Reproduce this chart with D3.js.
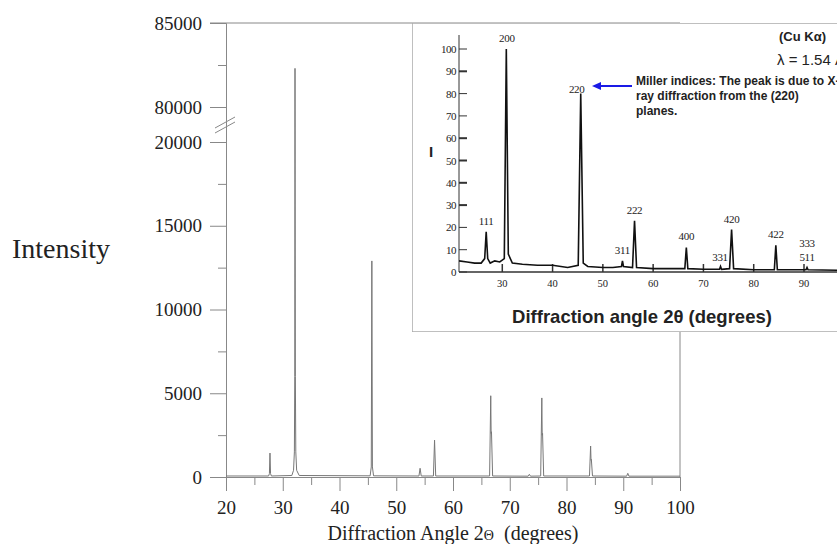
<!DOCTYPE html>
<html>
<head>
<script src="https://d3js.org/d3.v7.min.js"></script>
<style>
  body { margin: 0; background: #fff; }
</style>
</head>
<body>
<script>
// main pattern: profile points [2theta, intensity]
const mainProfile = [
  [20, 60], [27.5, 60], [27.65, 200], [27.75, 1430], [27.85, 200], [28.0, 60],
  [31.6, 90], [31.9, 400], [32.05, 1500], [32.12, 6000], [32.16, 82300], [32.22, 6000], [32.3, 1500], [32.45, 400], [32.9, 90],
  [45.4, 70], [45.6, 600], [45.7, 12900], [45.8, 600], [46.0, 70],
  [54.0, 60], [54.2, 520], [54.4, 60],
  [56.55, 60], [56.75, 2200], [56.95, 60],
  [66.45, 60], [66.65, 4850], [66.72, 2600], [66.78, 2700], [66.98, 60],
  [73.25, 50], [73.45, 160], [73.65, 50],
  [75.45, 60], [75.65, 4720], [75.72, 2500], [75.78, 2600], [75.98, 60],
  [84.05, 60], [84.25, 1850], [84.32, 1000], [84.38, 1050], [84.58, 60],
  [90.6, 50], [90.8, 220], [91.0, 50],
  [100, 50]
];
const yMajor = [0, 5000, 10000, 15000, 20000, 80000, 85000];
const yMinor = [2500, 7500, 12500, 17500, 82500];
const xMajor = [20, 30, 40, 50, 60, 70, 80, 90, 100];
const xMinor = [25, 35, 45, 55, 65, 75, 85, 95];

// inset (scanned textbook pattern)
const insetProfile = [
  [21.4, 5], [23, 4.5], [24.5, 4], [25.8, 4], [26.5, 6], [26.8, 18], [27.1, 6], [27.6, 4],
  [28.5, 5], [29.5, 4.5], [30.4, 6], [30.8, 100], [31.2, 8], [32, 4], [34, 3.5], [37, 3],
  [40, 3], [43, 2], [45.1, 3], [45.6, 80], [46.1, 4], [47, 2.5], [50, 2], [52, 2],
  [53.7, 2.5], [53.9, 5], [54.1, 2.5], [55.9, 2], [56.3, 23], [56.7, 2], [60, 1.5],
  [63, 1.5], [66.3, 1.5], [66.6, 11], [66.9, 1.5], [70, 1.2], [73.2, 1.2], [73.4, 2.5],
  [73.6, 1.2], [75.2, 1.5], [75.6, 19], [76, 1.5], [80, 1], [84.1, 1], [84.4, 12],
  [84.7, 1], [87, 1], [90.4, 1], [90.6, 2], [90.8, 1], [97, 0.8]
];
const insetYTicks = [0, 10, 20, 30, 40, 50, 60, 70, 80, 90, 100];
const insetXTicks = [30, 40, 50, 60, 70, 80, 90];
const insetLabels = [
  { t: "111", x: 26.8, v: 18 }, { t: "200", x: 30.9, v: 100 }, { t: "220", x: 45.6, v: 80 },
  { t: "311", x: 53.9, v: 5 }, { t: "222", x: 56.3, v: 23 }, { t: "400", x: 66.6, v: 11 },
  { t: "331", x: 73.3, v: 2 }, { t: "420", x: 75.6, v: 19 }, { t: "422", x: 84.4, v: 12 },
  { t: "511", x: 90.6, v: 2 }, { t: "333", x: 90.6, v: 8 }
];
const noteLines = ["Miller indices: The peak is due to X-", "ray diffraction from the (220)", "planes."];

const svg = d3.select("body").append("svg")
  .attr("width", 837).attr("height", 544)
  .style("font-family", "Liberation Serif");

const x = d3.scaleLinear().domain([20, 100]).range([226, 680]);
const y = d3.scaleLinear().domain([0, 20000, 80000, 85000]).range([477, 142, 107, 23]);

// frame
svg.append("line").attr("x1", 210).attr("x2", 680).attr("y1", 23).attr("y2", 23).attr("stroke", "#888");
svg.append("line").attr("x1", 680).attr("x2", 680).attr("y1", 23).attr("y2", 477).attr("stroke", "#888");

// y axis
svg.append("g").attr("transform", "translate(226,0)")
  .call(d3.axisLeft(y).tickValues(yMajor).tickSize(16).tickPadding(8).tickFormat(d3.format("d")));
svg.append("g").attr("transform", "translate(226,0)")
  .call(d3.axisLeft(y).tickValues(yMinor).tickSize(8).tickFormat(""))
  .select(".domain").remove();

// x axis
svg.append("g").attr("transform", "translate(0,477)")
  .call(d3.axisBottom(x).tickValues(xMajor).tickSize(14).tickPadding(10));
svg.append("g").attr("transform", "translate(0,477)")
  .call(d3.axisBottom(x).tickValues(xMinor).tickSize(8).tickFormat(""))
  .select(".domain").remove();

svg.selectAll(".tick line, .domain").attr("stroke", "#888");
svg.selectAll(".tick text").attr("font-size", 19).attr("fill", "#222").attr("font-family", "Liberation Serif");

// axis break marks
[0, 5].forEach(o => {
  svg.append("line").attr("x1", 215).attr("y1", 133 - o).attr("x2", 235).attr("y2", 122 - o)
    .attr("stroke", "#888").attr("stroke-width", 1);
});

// pattern line
svg.append("path").datum(mainProfile)
  .attr("fill", "none").attr("stroke", "#777").attr("stroke-width", 1)
  .attr("d", d3.line().x(d => x(d[0])).y(d => y(d[1])));

// titles
svg.append("text").attr("x", 12).attr("y", 258).attr("font-size", 28).attr("fill", "#222").text("Intensity");
const xt = svg.append("text").attr("x", 453).attr("y", 540).attr("text-anchor", "middle")
  .attr("font-size", 20).attr("fill", "#222");
xt.append("tspan").text("Diffraction Angle 2");
xt.append("tspan").attr("font-size", 14).text("\u0398");
xt.append("tspan").text("\u00a0\u00a0(degrees)");

// ---- inset ----
const ins = svg.append("g");
svg.append("clipPath").attr("id", "insclip").append("rect")
  .attr("x", 412).attr("y", 23).attr("width", 430).attr("height", 309);
ins.attr("clip-path", "url(#insclip)");
ins.append("rect").attr("x", 412).attr("y", 23).attr("width", 440).attr("height", 309)
  .attr("fill", "#fff").attr("stroke", "#aaa").attr("stroke-width", 1.5);

const ix = d3.scaleLinear().domain([20, 90]).range([452, 804]);
const iy = d3.scaleLinear().domain([0, 100]).range([272, 49]);

ins.append("line").attr("x1", 459).attr("x2", 459).attr("y1", 272).attr("y2", 35).attr("stroke", "#333");
ins.append("line").attr("x1", 459).attr("x2", 840).attr("y1", 272).attr("y2", 272).attr("stroke", "#333").attr("stroke-width", 1.5);

ins.selectAll(".iyt").data(insetYTicks).join("line")
  .attr("x1", 459).attr("x2", 467).attr("y1", d => iy(d)).attr("y2", d => iy(d))
  .attr("stroke", "#333").attr("stroke-width", (d, i) => [30, 40, 50, 60, 90].includes(d) ? 2 : 1);
ins.selectAll(".iyl").data(insetYTicks).join("text")
  .attr("x", 456).attr("y", d => iy(d) + 4).attr("text-anchor", "end")
  .attr("font-size", 11).attr("letter-spacing", -0.5).attr("fill", "#222").text(d => d);
ins.selectAll(".ixt").data(insetXTicks).join("line")
  .attr("x1", d => ix(d)).attr("x2", d => ix(d)).attr("y1", 272).attr("y2", 264)
  .attr("stroke", "#333").attr("stroke-width", 1.5);
ins.selectAll(".ixl").data(insetXTicks).join("text")
  .attr("x", d => ix(d)).attr("y", 287).attr("text-anchor", "middle")
  .attr("font-size", 10.5).attr("fill", "#222").text(d => d);

ins.append("path").datum(insetProfile)
  .attr("fill", "none").attr("stroke", "#111").attr("stroke-width", 1.6)
  .attr("d", d3.line().x(d => ix(d[0])).y(d => iy(d[1])));

ins.selectAll(".pl").data(insetLabels).join("text")
  .attr("x", d => ix(d.x) + (d.t === "220" ? -4 : 0))
  .attr("y", d => d.t === "220" ? iy(d.v) - 1 : iy(d.v) - 7)
  .attr("text-anchor", "middle").attr("font-size", 11).attr("letter-spacing", -0.3)
  .attr("fill", "#222").text(d => d.t);

ins.append("text").attr("x", 429).attr("y", 157).attr("font-family", "Liberation Sans")
  .attr("font-weight", "bold").attr("font-size", 15).attr("fill", "#222").text("I");

// annotation arrow
ins.append("line").attr("x1", 632).attr("x2", 599).attr("y1", 86).attr("y2", 86)
  .attr("stroke", "#1a1ae6").attr("stroke-width", 2);
ins.append("path").attr("d", "M592,86 L601,82 L601,90 Z").attr("fill", "#1a1ae6");
ins.selectAll(".note").data(noteLines).join("text")
  .attr("x", 636).attr("y", (d, i) => 85 + i * 15)
  .attr("font-family", "Liberation Sans").attr("font-weight", "bold")
  .attr("font-size", 12).attr("fill", "#222").text(d => d);

ins.append("text").attr("x", 779).attr("y", 41).attr("font-family", "Liberation Sans")
  .attr("font-weight", "bold").attr("font-size", 13).attr("fill", "#222").text("(Cu K\u03b1)");
ins.append("text").attr("x", 777).attr("y", 65).attr("font-family", "Liberation Sans")
  .attr("font-size", 15).attr("fill", "#222").text("\u03bb = 1.54 \u00c5");

ins.append("text").attr("x", 642).attr("y", 323).attr("text-anchor", "middle")
  .attr("font-family", "Liberation Sans").attr("font-weight", "bold")
  .attr("font-size", 18.5).attr("fill", "#222").text("Diffraction angle 2\u03b8 (degrees)");
</script>
</body>
</html>
